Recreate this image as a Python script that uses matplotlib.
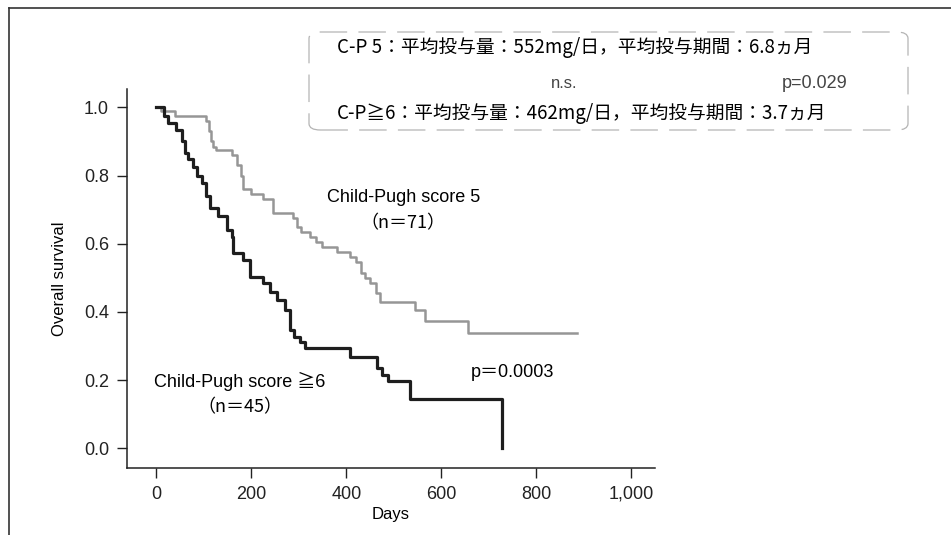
import matplotlib
matplotlib.use("Agg")
import matplotlib.pyplot as plt
from matplotlib.lines import Line2D
from matplotlib.patches import FancyBboxPatch

# Kaplan-Meier steps (days, survival)
days_cp5 = [0, 10, 40, 104, 110, 115, 120, 125, 160, 170, 178, 183, 200, 225,
            245, 288, 296, 305, 323, 335, 348, 380, 408, 420, 430, 440, 450,
            462, 471, 545, 566, 656, 885]
surv_cp5 = [1.0, 0.99, 0.975, 0.96, 0.93, 0.9, 0.885, 0.875, 0.86, 0.83, 0.80,
            0.76, 0.745, 0.73, 0.69, 0.675, 0.65, 0.635, 0.62, 0.605, 0.59,
            0.575, 0.56, 0.545, 0.515, 0.50, 0.485, 0.455, 0.43, 0.405, 0.373,
            0.338, 0.338]

days_cp6 = [0, 15, 25, 41, 53, 60, 66, 77, 85, 95, 104, 113, 130, 148, 159,
            162, 182, 197, 225, 240, 253, 271, 281, 290, 303, 313, 408, 464,
            475, 488, 534, 728]
surv_cp6 = [1.0, 0.975, 0.955, 0.935, 0.9, 0.866, 0.85, 0.825, 0.80, 0.778,
            0.74, 0.705, 0.68, 0.64, 0.62, 0.572, 0.552, 0.503, 0.484, 0.458,
            0.435, 0.405, 0.347, 0.325, 0.313, 0.294, 0.267, 0.235, 0.215,
            0.197, 0.144, 0.0]

xticks = [0, 200, 400, 600, 800, 1000]
xtick_labels = ["0", "200", "400", "600", "800", "1,000"]
yticks = [0.0, 0.2, 0.4, 0.6, 0.8, 1.0]

info_cp5 = "C-P 5：平均投与量：552mg/日，平均投与期間：6.8ヵ月"
info_cp6 = "C-P≧6：平均投与量：462mg/日，平均投与期間：3.7ヵ月"

FAM = ["Liberation Sans", "Noto Sans CJK JP", "DejaVu Sans"]
JFAM = ["Noto Sans CJK JP", "DejaVu Sans"]
plt.rcParams["font.family"] = FAM

W, H = 951, 535
fig = plt.figure(figsize=(W / 100, H / 100), dpi=100)
ax = fig.add_axes([127 / W, 1 - 467.6 / H, (655 - 127) / W, (467.6 - 89) / H])

ax.step(days_cp5, surv_cp5, where="post", color="#969696", lw=1.8)
ax.step(days_cp6, surv_cp6, where="post", color="#1e1e1e", lw=2.3)

ax.set_xlim(-62, 1050)
ax.set_ylim(-0.057, 1.054)
ax.set_xticks(xticks)
ax.set_xticklabels(xtick_labels)
ax.set_yticks(yticks)
ax.set_yticklabels([f"{v:.1f}" for v in yticks])
for s in ["top", "right"]:
    ax.spines[s].set_visible(False)
for s in ["left", "bottom"]:
    ax.spines[s].set_color("#222222")
    ax.spines[s].set_linewidth(1.1)
ax.tick_params(direction="out", length=7, width=1, colors="#222222",
               labelsize=13, pad=6)
ax.set_xlabel("Days", fontsize=12, labelpad=3)
ax.set_ylabel("Overall survival", fontsize=12, labelpad=12)

# curve labels
ax.text(520, 0.735, "Child-Pugh score 5", ha="center", va="center", fontsize=13)
ax.text(520, 0.66, "（n＝71）", ha="center", va="center", fontsize=13, family=JFAM)
ax.text(176, 0.195, "Child-Pugh score ≧6", ha="center", va="center", fontsize=13)
ax.text(176, 0.12, "（n＝45）", ha="center", va="center", fontsize=13, family=JFAM)
ax.text(749, 0.223, "p＝0.0003", ha="center", va="center", fontsize=13, family=FAM)

# dosing info box (figure pixel coords)
tr = fig.transFigure
def fx(px):
    return px / W
def fy(py):
    return 1 - py / H

box = FancyBboxPatch((fx(309), fy(130)), fx(908) - fx(309), fy(32) - fy(130),
                     boxstyle="round,pad=0,rounding_size=0.012",
                     transform=tr, fill=False, edgecolor="#b4b4b4", lw=0.9,
                     linestyle=(0, (22, 9)))
fig.add_artist(box)
fig.text(fx(337), fy(48), info_cp5, ha="left", va="center", fontsize=13.5, family=JFAM)
fig.text(fx(337), fy(113), info_cp6, ha="left", va="center", fontsize=13.5, family=JFAM)
fig.text(fx(564), fy(83), "n.s.", ha="center", va="center", fontsize=12, color="#444444")
fig.text(fx(815), fy(83), "p=0.029", ha="center", va="center", fontsize=13, color="#444444")

# scanned page frame
fig.add_artist(Line2D([fx(9), fx(9)], [fy(8), 0], transform=tr, color="#333333", lw=1.2))
fig.add_artist(Line2D([fx(9), 1], [fy(8), fy(8)], transform=tr, color="#333333", lw=1.2))

fig.savefig("out.png", dpi=100)
